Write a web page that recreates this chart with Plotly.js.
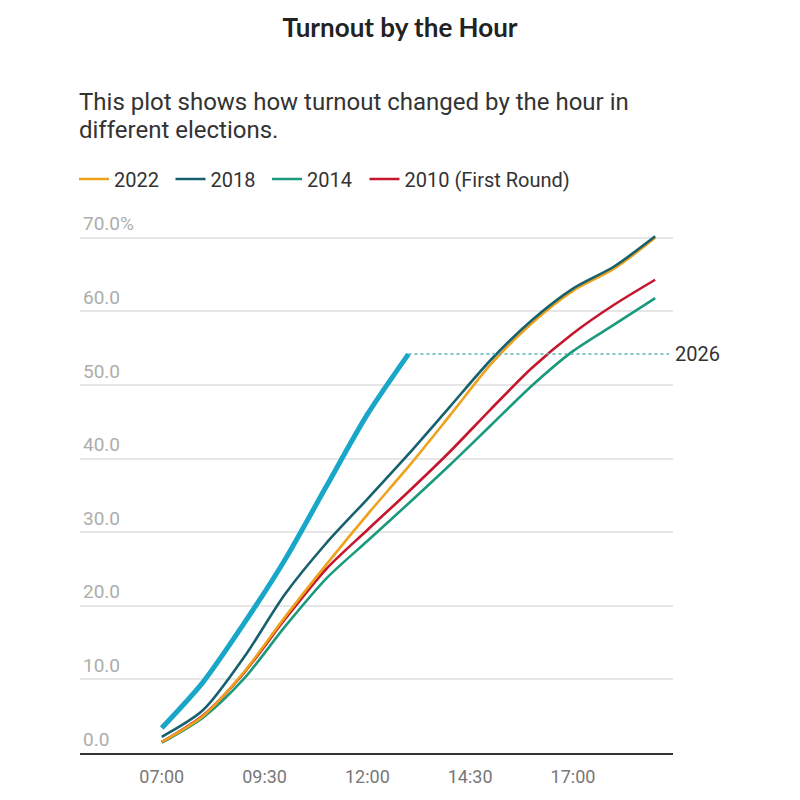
<!DOCTYPE html>
<html>
<head>
<meta charset="utf-8">
<script src="https://cdn.plot.ly/plotly-3.0.1.min.js"></script>
<style>html,body{margin:0;padding:0;background:#fff;}#chart{width:800px;height:800px;}</style>
</head>
<body>
<div id="chart"></div>
<script>
const baseDate = '2000-01-01 ';
const hours = ['07:00','08:00','09:00','10:00','11:00','12:00','13:00','14:00','15:00','16:00','17:00','18:00','19:00'];
const turnout2022 = [1.5, 5.0, 11.0, 18.5, 25.6, 32.4, 38.9, 45.8, 52.8, 58.4, 62.8, 65.8, 70.0];
const turnout2018 = [2.2, 5.8, 13.0, 21.6, 28.5, 34.5, 40.6, 47.0, 53.4, 58.8, 63.1, 66.1, 70.2];
const turnout2014 = [1.4, 4.8, 10.1, 17.2, 23.7, 28.8, 33.9, 39.1, 44.5, 49.9, 54.6, 58.2, 61.8];
const turnout2010 = [1.5, 5.1, 10.9, 18.2, 25.0, 30.3, 35.5, 40.9, 46.7, 52.3, 57.0, 60.9, 64.3];
const hours2026 = ['07:00','08:00','09:00','10:00','11:00','12:00','13:00'];
const turnout2026 = [3.4, 9.6, 17.6, 26.3, 36.2, 46.0, 54.2];
const label2026 = '2026';
const refLineEnd = '19:20';
const yTickVals = [0, 10, 20, 30, 40, 50, 60, 70];
const yTickText = ['0.0', '10.0', '20.0', '30.0', '40.0', '50.0', '60.0', '70.0%'];
const xTickStart = '07:00';
const subtitleLines = ['This plot shows how turnout changed by the hour in', 'different elections.'];

const t = h => baseDate + h;
const X = hours.map(t);

// plot area geometry (paper px)
const plotTop = 200, plotBottom = 753, plotLeft = 80, plotRight = 673;
const plotH = plotBottom - plotTop, plotW = plotRight - plotLeft;
const py = p => (plotBottom - p) / plotH;
const px = p => (p - plotLeft) / plotW;

function line(name, y, color, legendId) {
  return {x: X, y: y, name: name, type: 'scatter', mode: 'lines',
    line: {color: color, width: 2.6, shape: 'spline', smoothing: 0.8},
    legend: legendId, hoverinfo: 'skip'};
}
const last2026 = turnout2026[turnout2026.length - 1];
const traces = [
  line('2014', turnout2014, '#1a9a7c', 'legend3'),
  line('2010 (First Round)', turnout2010, '#c5162e', 'legend4'),
  line('2022', turnout2022, '#eea21b', 'legend'),
  line('2018', turnout2018, '#17606e', 'legend2'),
  {x: [t(hours2026[hours2026.length - 1]), t(refLineEnd)], y: [last2026, last2026],
   type: 'scatter', mode: 'lines', showlegend: false, hoverinfo: 'skip',
   line: {color: '#5cb3b8', width: 1.5, dash: 'dot'}},
  {x: hours2026.map(t), y: turnout2026, name: '2026', type: 'scatter', mode: 'lines',
   showlegend: false, hoverinfo: 'skip',
   line: {color: '#18a6c9', width: 5, shape: 'spline', smoothing: 0.8}}
];

function leg(leftPx) {
  return {orientation: 'h', x: px(leftPx), xanchor: 'left', y: py(179), yanchor: 'middle',
    font: {size: 20, color: '#333'}, itemwidth: 30, bgcolor: 'rgba(0,0,0,0)'};
}

const layout = {
  width: 800, height: 800,
  margin: {l: plotLeft, r: 800 - plotRight, t: plotTop, b: 800 - plotBottom},
  paper_bgcolor: '#ffffff', plot_bgcolor: '#ffffff',
  font: {family: 'Roboto, sans-serif', color: '#333'},
  title: {text: '<b>Turnout by the Hour</b>', x: 0.5, xref: 'container', xanchor: 'center',
    y: 1 - 28/800, yref: 'container', yanchor: 'middle',
    font: {family: 'Lato, sans-serif', size: 26, color: '#222'}},
  showlegend: true,
  legend: leg(74),
  legend2: leg(170.5),
  legend3: leg(267),
  legend4: leg(364.5),
  xaxis: {type: 'date', range: [baseDate + '05:00:43', baseDate + '19:26:00'],
    tick0: baseDate + xTickStart, dtick: 2.5 * 3600 * 1000, tickformat: '%H:%M',
    showgrid: false, zeroline: false, showline: true, linecolor: '#333', linewidth: 1.5,
    ticks: '', tickfont: {size: 18, color: '#777'}, ticklabelstandoff: 7, fixedrange: true},
  yaxis: {range: [0, plotH / 7.36], tickvals: yTickVals, ticktext: yTickText,
    showgrid: true, gridcolor: '#e6e6e6', gridwidth: 2, zeroline: false, showline: false,
    ticks: '', ticklabelposition: 'inside', ticklabelshift: -14, ticklabelstandoff: 0,
    tickfont: {size: 19, color: '#adadad'}, fixedrange: true},
  annotations: [
    {text: subtitleLines[0], xref: 'paper', yref: 'paper', x: 0, y: py(102),
     xanchor: 'left', yanchor: 'middle', xshift: -2, borderpad: 0,
     align: 'left', showarrow: false, font: {size: 24, color: '#333'}},
    {text: subtitleLines[1], xref: 'paper', yref: 'paper', x: 0, y: py(130),
     xanchor: 'left', yanchor: 'middle', xshift: -2, borderpad: 0,
     align: 'left', showarrow: false, font: {size: 24, color: '#333'}},
    {text: label2026, xref: 'paper', yref: 'y', x: 1, y: last2026, xanchor: 'left', yanchor: 'middle',
     xshift: 0, showarrow: false, font: {size: 20, color: '#333'}}
  ]
};

Plotly.newPlot('chart', traces, layout, {staticPlot: true, displayModeBar: false});
</script>
</body>
</html>
